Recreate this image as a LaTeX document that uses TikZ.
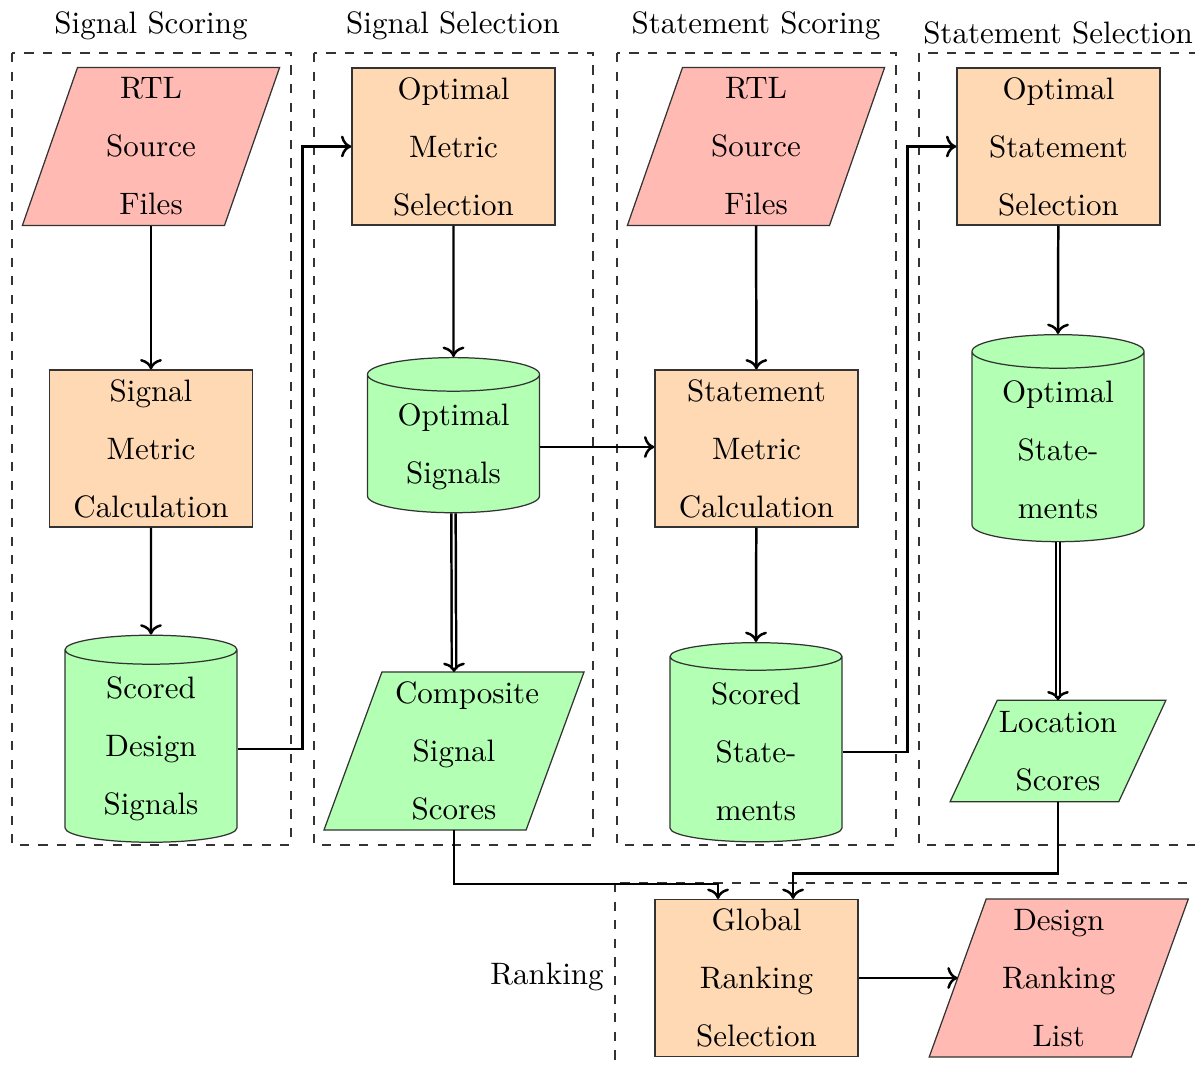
\documentclass[tikz,border=0pt]{standalone}
\usetikzlibrary{shapes.geometric,backgrounds,calc,arrows.meta}
\definecolor{procfill}{RGB}{255,217,179}
\definecolor{datafill}{RGB}{179,255,179}
\definecolor{iofill}{RGB}{255,187,179}
\begin{document}
\begin{tikzpicture}[x=0.3226pt, y=-0.3226pt,
  every node/.style={font=\fontsize{10}{18.7}\selectfont},
  proc/.style={rectangle, draw=black!80, fill=procfill, minimum width=65.5pt,
    minimum height=50.6pt, align=center, inner sep=0pt},
  store/.style={cylinder, shape border rotate=90, aspect=0.27, draw=black!80,
    fill=datafill, minimum width=55.5pt, align=center, inner xsep=2pt, inner ysep=3.9pt},
  iobox/.style 2 args={rectangle, inner sep=0pt, align=center, minimum height=50.6pt,
    minimum width=64.8pt,
    append after command={\pgfextra{
      \begin{pgfonlayer}{background}
        \draw[draw=black!80, fill=#2]
          ([xshift=#1]\tikzlastnode.north west) -- ([xshift=#1]\tikzlastnode.north east)
          -- ([xshift=-#1]\tikzlastnode.south east) -- ([xshift=-#1]\tikzlastnode.south west)
          -- cycle;
      \end{pgfonlayer}}}},
  frame/.style={draw=black!80, dashed},
  arr/.style={thick, ->},
  dblarr/.style={thick, double, -{To[length=3pt, width=7pt, line width=0.8pt]}},
  title/.style={inner sep=0pt}
]
\clip (0,0) rectangle (1195,1069);

% group frames
\draw[frame] (12,53) rectangle (291,845);
\draw[frame] (314,53) rectangle (593,845);
\draw[frame] (617,53) rectangle (896,845);
\draw[frame] (919,53) rectangle (1215,845);
\draw[frame] (615,883) rectangle (1215,1090);

% group titles
\node[title] (t1) at (151,26) {Signal Scoring};
\node[title] (t2) at (453,26) {Signal Selection};
\node[title] (t3) at (756,26) {Statement Scoring};
\node[title] (t4) at (1058,33) {Statement Selection};
\node[title] (t5) at (547,977) {Ranking};

% signal scoring
\node[iobox={8.9pt}{iofill}] (rtla) at (151,146.5) {RTL\\Source\\Files};
\node[proc] (smc) at (151,448.5) {Signal\\Metric\\Calculation};
\node[store] (sds) at (151,749) {Scored\\Design\\Signals};

% signal selection
\node[proc] (oms) at (453.5,146.5) {Optimal\\Metric\\Selection};
\node[store] (os) at (453.5,447) {Optimal\\Signals};
\node[iobox={9.35pt}{datafill}, text width=38pt] (css) at (454,751) {Composite\\Signal\\Scores};

% statement scoring
\node[iobox={8.9pt}{iofill}] (rtlb) at (756,146.5) {RTL\\Source\\Files};
\node[proc] (stmc) at (756.5,448.5) {Statement\\Metric\\Calculation};
\node[store] (sst) at (756,752) {Scored\\State-\\ments};

% statement selection
\node[proc] (omss) at (1058.5,146.5) {Optimal\\Statement\\Selection};
\node[store] (ost) at (1058,450) {Optimal\\State-\\ments};
\node[iobox={7.6pt}{datafill}, minimum width=54pt, minimum height=32.3pt] (ls) at (1058,751) {Location\\Scores};

% ranking
\node[proc] (grs) at (756.5,978) {Global\\Ranking\\Selection};
\node[iobox={9.2pt}{iofill}] (drl) at (1058.75,978) {Design\\Ranking\\List};

% connectors
\draw[arr] (rtla) -- (smc);
\draw[arr] (smc) -- (sds.north);
\draw[arr] (sds.east) -- ++(65,0) |- (oms.west);
\draw[arr] (oms) -- (os.north);
\draw[arr] (os.east) -- (stmc.west |- os.east);
\draw[dblarr] (os.south) -- (css.north);
\draw[arr] (css.south) -- ++(0,54) -| ([xshift=-12.4pt]grs.north);
\draw[arr] (rtlb) -- (stmc);
\draw[arr] (stmc) -- (sst.north);
\draw[arr] (sst.east) -- ++(65,0) |- (omss.west);
\draw[arr] (omss) -- (ost.north);
\draw[dblarr] (ost.south) -- (ls.north);
\draw[arr] (ls.south) -- ++(0,72) -| ([xshift=11.8pt]grs.north);
\draw[arr] (grs) -- (drl);
\end{tikzpicture}
\end{document}
